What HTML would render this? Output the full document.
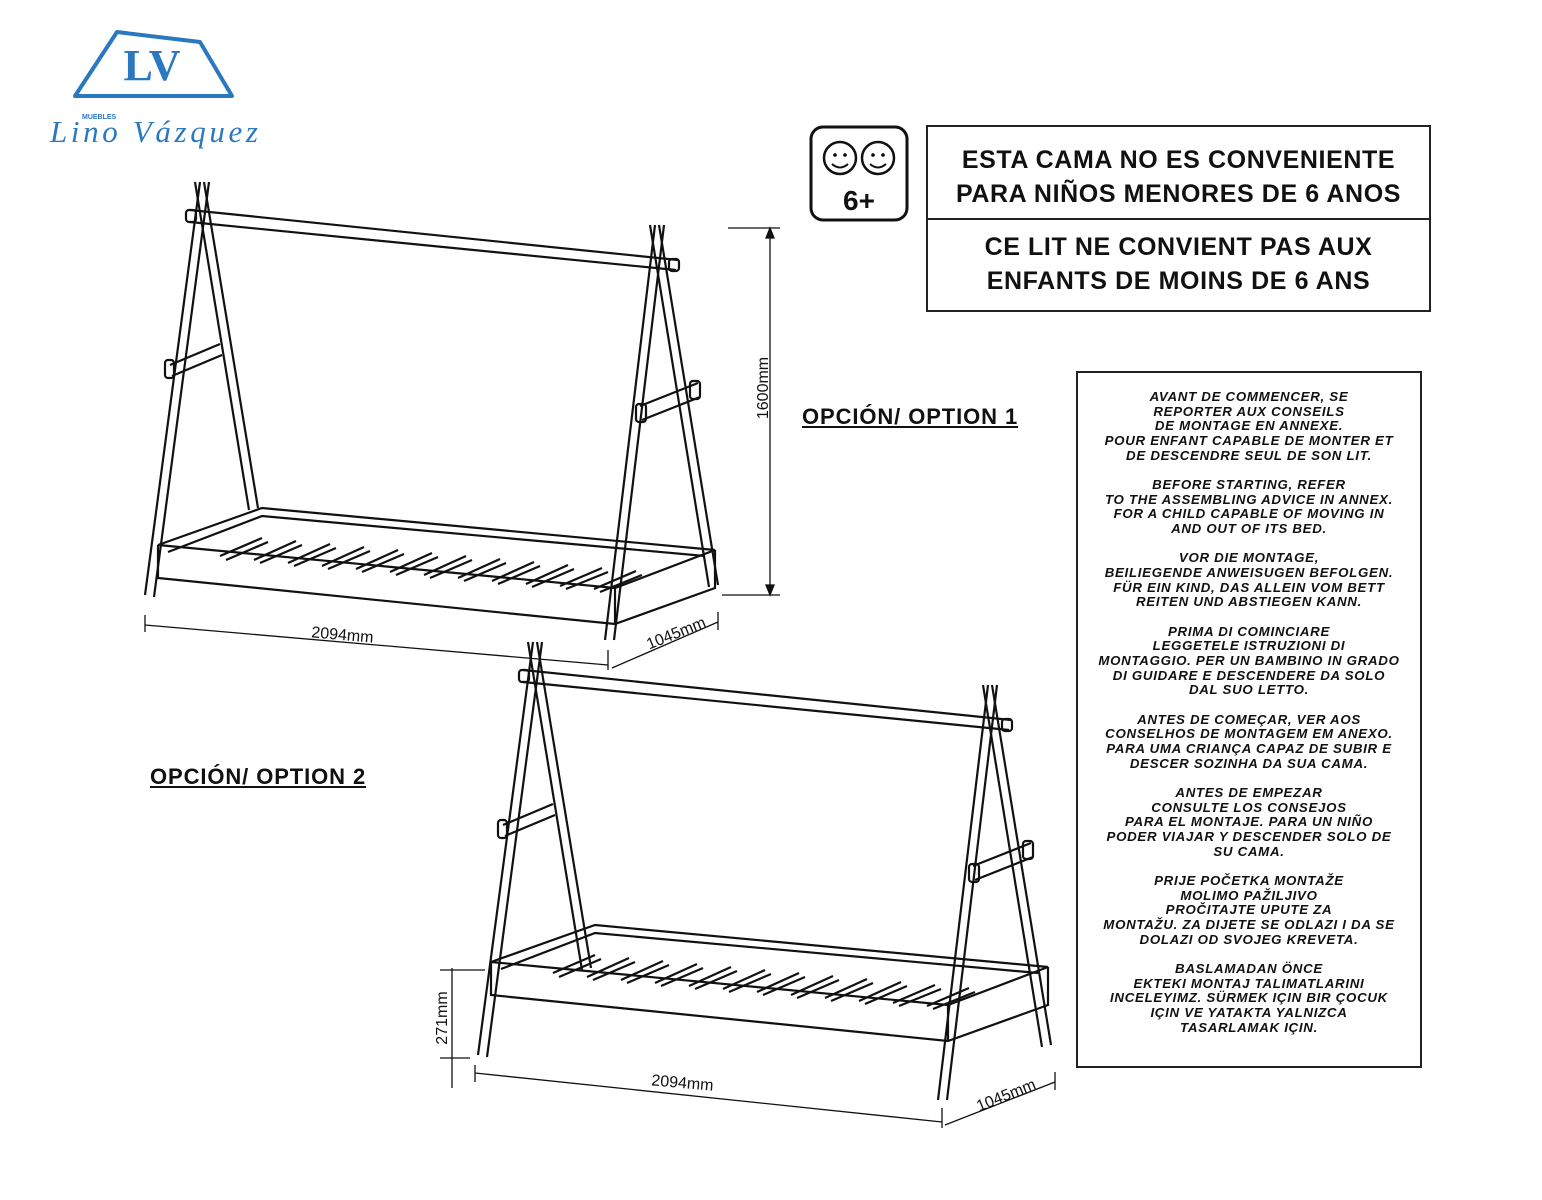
<!DOCTYPE html>
<html><head><meta charset="utf-8"><style>
body{margin:0;background:#fff;width:1542px;height:1200px;overflow:hidden;position:relative;font-family:"Liberation Sans",sans-serif}
.box{position:absolute;border:2px solid #222;box-sizing:border-box}
.wt{font-weight:bold;font-size:25px;letter-spacing:0.6px;text-align:center;line-height:34px;color:#111;white-space:nowrap}
.panel{position:absolute;left:1076px;top:371px;width:346px;height:697px;border:2px solid #222;box-sizing:border-box;text-align:center;font-weight:bold;font-style:italic;font-size:13.3px;letter-spacing:0.7px;line-height:14.7px;color:#111;padding-top:17px;white-space:nowrap}
.panel p{margin:0 0 14.5px 0}
.opt{position:absolute;font-weight:bold;font-size:22px;letter-spacing:0.9px;text-decoration:underline;color:#111}
</style></head><body>
<svg width="1542" height="1200" style="position:absolute;left:0;top:0">
<defs>
<g id="aframe" fill="none" stroke="#111" stroke-width="2.2">
  <path d="M200,182 L145,595 M209,182 L154,597"/>
  <path d="M195,182 L249,510 M204,182 L258,508"/>
  <path d="M655,225 L605,640 M664,225 L614,640"/>
  <path d="M650,225 L709,587 M659,225 L718,585"/>
  <path d="M190,210 L678,260 M190,222 L676,270"/>
  <rect x="186" y="210" width="10" height="12" rx="3"/>
  <rect x="669" y="259" width="10" height="12" rx="3"/>
  <path d="M170,365 L220,344 M172,376 L222,355"/>
  <rect x="165" y="360" width="9" height="18" rx="3"/>
  <path d="M640,406 L698,383 M642,420 L700,397"/>
  <rect x="636" y="404" width="10" height="18" rx="3"/>
  <rect x="690" y="381" width="10" height="18" rx="3"/>
</g>
<g id="frame" fill="none" stroke="#111" stroke-width="2.2">
  <path d="M158,545 L615,588 L715,550 L262,508 Z"/>
  <path d="M158,545 L158,578 L615,624 L715,588 L715,550"/>
  <path d="M615,588 L615,624"/>
  <path d="M168,552 L262,516 L705,556"/>
  <g stroke-width="2.2">
   <path d="M220,556 L262,538 M226,560 L268,542"/>
   <path d="M254,560 L296,541 M260,563 L302,545"/>
   <path d="M288,563 L330,544 M294,566 L336,548"/>
   <path d="M322,566 L364,547 M328,569 L370,551"/>
   <path d="M356,569 L398,550 M362,572 L404,554"/>
   <path d="M390,572 L432,553 M396,575 L438,557"/>
   <path d="M424,575 L466,556 M430,578 L472,560"/>
   <path d="M458,578 L500,559 M464,581 L506,563"/>
   <path d="M492,581 L534,562 M498,584 L540,566"/>
   <path d="M526,584 L568,565 M532,587 L574,569"/>
   <path d="M560,586 L602,568 M566,589 L608,572"/>
   <path d="M594,589 L636,571 M600,592 L642,575"/>
  </g>
</g>
</defs>
<use href="#aframe"/>
<use href="#frame"/>
<use href="#aframe" transform="translate(333,460)"/>
<use href="#frame" transform="translate(333,417)"/>
<g fill="none" stroke="#111" stroke-width="1.3">
  <path d="M145,615 L145,632 M145,625 L608,665 M608,650 L608,670"/>
  <path d="M612,668 L718,622 M718,612 L718,630"/>
  <path d="M728,228 L780,228 M722,595 L780,595 M770,228 L770,595"/>
  <path d="M770,228 l-4,10 l8,0 z M770,595 l-4,-10 l8,0 z" fill="#111"/>
  <path d="M475,1065 L475,1082 M475,1073 L942,1122 M942,1108 L942,1128"/>
  <path d="M945,1125 L1055,1082 M1055,1072 L1055,1090"/>
  <path d="M440,970 L485,970 M440,1058 L470,1058 M452,968 L452,1088"/>
</g>
<g font-family="Liberation Sans, sans-serif" font-size="16" fill="#111">
  <text x="342" y="640" text-anchor="middle" transform="rotate(5 342 640)">2094mm</text>
  <text x="678" y="638" text-anchor="middle" transform="rotate(-22 678 638)">1045mm</text>
  <text x="768" y="388" text-anchor="middle" transform="rotate(-90 768 388)">1600mm</text>
  <text x="682" y="1088" text-anchor="middle" transform="rotate(5 682 1088)">2094mm</text>
  <text x="1008" y="1100" text-anchor="middle" transform="rotate(-22 1008 1100)">1045mm</text>
  <text x="447" y="1018" text-anchor="middle" transform="rotate(-90 447 1018)">271mm</text>
</g>
<path d="M75,96 L117,32 L200,42 L232,96 Z" fill="none" stroke="#2a78c0" stroke-width="4" stroke-linejoin="round"/>
<text x="152" y="80" text-anchor="middle" font-family="Liberation Serif, serif" font-weight="bold" font-size="44" fill="#2a78c0">LV</text>
<text x="82" y="119" font-family="Liberation Sans, sans-serif" font-weight="bold" font-size="7" fill="#2a78c0">MUEBLES</text>
<text x="50" y="142" font-family="Liberation Serif, serif" font-style="italic" font-size="31" fill="#2a78c0" textLength="208">Lino Vázquez</text>
<rect x="811" y="127" width="96" height="93" rx="12" fill="#fff" stroke="#111" stroke-width="3"/>
<circle cx="840" cy="158" r="16" fill="none" stroke="#111" stroke-width="2.5"/>
<circle cx="878" cy="158" r="16" fill="none" stroke="#111" stroke-width="2.5"/>
<path d="M832,164 q8,7 16,0 M870,164 q8,7 16,0" fill="none" stroke="#111" stroke-width="2"/>
<circle cx="835" cy="155" r="1.8"/><circle cx="845" cy="155" r="1.8"/><circle cx="873" cy="155" r="1.8"/><circle cx="883" cy="155" r="1.8"/>
<text x="859" y="210" text-anchor="middle" font-family="Liberation Sans, sans-serif" font-weight="bold" font-size="28" fill="#111">6+</text>
</svg>
<div class="box" style="left:926px;top:125px;width:505px;height:187px">
  <div class="wt" style="padding-top:16px">ESTA CAMA NO ES CONVENIENTE<br>PARA NIÑOS MENORES DE 6 ANOS</div>
  <div style="position:absolute;left:0;right:0;top:91px;border-top:2px solid #222"></div>
  <div class="wt" style="position:absolute;left:0;right:0;top:103px">CE LIT NE CONVIENT PAS AUX<br>ENFANTS DE MOINS DE 6 ANS</div>
</div>
<div class="opt" style="left:802px;top:404px">OPCIÓN/ OPTION 1</div>
<div class="opt" style="left:150px;top:764px">OPCIÓN/ OPTION 2</div>
<div class="panel">
<p>AVANT DE COMMENCER, SE<br>REPORTER AUX CONSEILS<br>DE MONTAGE EN ANNEXE.<br>POUR ENFANT CAPABLE DE MONTER ET<br>DE DESCENDRE SEUL DE SON LIT.</p>
<p>BEFORE STARTING, REFER<br>TO THE ASSEMBLING ADVICE IN ANNEX.<br>FOR A CHILD CAPABLE OF MOVING IN<br>AND OUT OF ITS BED.</p>
<p>VOR DIE MONTAGE,<br>BEILIEGENDE ANWEISUGEN BEFOLGEN.<br>FÜR EIN KIND, DAS ALLEIN VOM BETT<br>REITEN UND ABSTIEGEN KANN.</p>
<p>PRIMA DI COMINCIARE<br>LEGGETELE ISTRUZIONI DI<br>MONTAGGIO. PER UN BAMBINO IN GRADO<br>DI GUIDARE E DESCENDERE DA SOLO<br>DAL SUO LETTO.</p>
<p>ANTES DE COMEÇAR, VER AOS<br>CONSELHOS DE MONTAGEM EM ANEXO.<br>PARA UMA CRIANÇA CAPAZ DE SUBIR E<br>DESCER SOZINHA DA SUA CAMA.</p>
<p>ANTES DE EMPEZAR<br>CONSULTE LOS CONSEJOS<br>PARA EL MONTAJE. PARA UN NIÑO<br>PODER VIAJAR Y DESCENDER SOLO DE<br>SU CAMA.</p>
<p>PRIJE POČETKA MONTAŽE<br>MOLIMO PAŽILJIVO<br>PROČITAJTE UPUTE ZA<br>MONTAŽU. ZA DIJETE SE ODLAZI I DA SE<br>DOLAZI OD SVOJEG KREVETA.</p>
<p>BASLAMADAN ÖNCE<br>EKTEKI MONTAJ TALIMATLARINI<br>INCELEYIMZ. SÜRMEK IÇIN BIR ÇOCUK<br>IÇIN VE YATAKTA YALNIZCA<br>TASARLAMAK IÇIN.</p>
</div>
</body></html>
